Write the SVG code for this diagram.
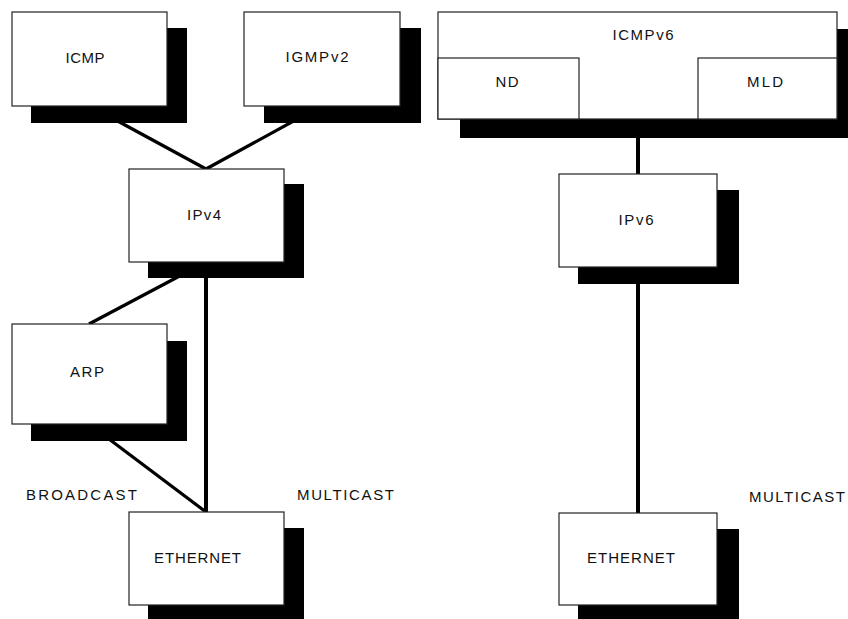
<svg xmlns="http://www.w3.org/2000/svg" width="848" height="619" viewBox="0 0 848 619">
<style>
.sh{fill:#000}
.bx{fill:#fff;stroke:#222;stroke-width:1.2}
.ln{stroke:#000;stroke-width:3.2;fill:none}
.v{stroke-width:4}
text{font-family:"Liberation Sans",Arial,sans-serif;font-size:15px;fill:#111}
</style>
<rect width="848" height="619" fill="#fff"/>
<g id="connectors">
<line class="ln" x1="90" y1="106" x2="206" y2="169"/>
<line class="ln" x1="321" y1="106" x2="206" y2="169"/>
<line class="ln" x1="206" y1="262" x2="89" y2="324"/>
<line class="ln v" x1="206" y1="262" x2="206" y2="512"/>
<line class="ln" x1="89" y1="424" x2="206" y2="512"/>
<line class="ln v" x1="638" y1="119" x2="638" y2="174"/>
<line class="ln v" x1="638" y1="267" x2="638" y2="513"/>
</g>
<g id="icmp">
<rect class="sh" x="31" y="28" width="156" height="95"/>
<rect class="bx" x="12" y="12" width="155" height="94"/>
<text x="65.5" y="63" textLength="39" lengthAdjust="spacing">ICMP</text>
</g>
<g id="igmpv2">
<rect class="sh" x="264" y="28" width="157" height="95"/>
<rect class="bx" x="244" y="12" width="156" height="94"/>
<text x="285.5" y="62" textLength="63" lengthAdjust="spacing">IGMPv2</text>
</g>
<g id="icmpv6">
<rect class="sh" x="460" y="29" width="400" height="109"/>
<rect class="bx" x="438" y="12" width="399" height="107"/>
<text x="612.5" y="40" textLength="61" lengthAdjust="spacing">ICMPv6</text>
<g id="nd">
<rect class="bx" x="438" y="58" width="141" height="61"/>
<text x="495.5" y="87" textLength="23" lengthAdjust="spacing">ND</text>
</g>
<g id="mld">
<rect class="bx" x="698" y="58" width="139" height="61"/>
<text x="747" y="87" textLength="36" lengthAdjust="spacing">MLD</text>
</g>
</g>
<g id="ipv4">
<rect class="sh" x="148" y="184" width="156" height="94"/>
<rect class="bx" x="129" y="169" width="155" height="93"/>
<text x="187" y="220" textLength="34" lengthAdjust="spacing">IPv4</text>
</g>
<g id="arp">
<rect class="sh" x="31" y="341" width="156" height="100"/>
<rect class="bx" x="12" y="324" width="155" height="100"/>
<text x="70" y="377" textLength="34" lengthAdjust="spacing">ARP</text>
</g>
<g id="ethernet1">
<rect class="sh" x="148" y="528" width="156" height="95"/>
<rect class="bx" x="129" y="512" width="155" height="93"/>
<text x="154" y="563" textLength="87" lengthAdjust="spacing">ETHERNET</text>
</g>
<g id="ipv6">
<rect class="sh" x="578" y="190" width="161" height="94"/>
<rect class="bx" x="559" y="174" width="158" height="93"/>
<text x="618.5" y="225" textLength="35" lengthAdjust="spacing">IPv6</text>
</g>
<g id="ethernet2">
<rect class="sh" x="578" y="529" width="161" height="95"/>
<rect class="bx" x="559" y="513" width="158" height="92"/>
<text x="587" y="563" textLength="88" lengthAdjust="spacing">ETHERNET</text>
</g>
<g id="labels">
<text x="26" y="500" textLength="111" lengthAdjust="spacing">BROADCAST</text>
<text x="297" y="500" textLength="97" lengthAdjust="spacing">MULTICAST</text>
<text x="749" y="502" textLength="96" lengthAdjust="spacing">MULTICAST</text>
</g>
</svg>
